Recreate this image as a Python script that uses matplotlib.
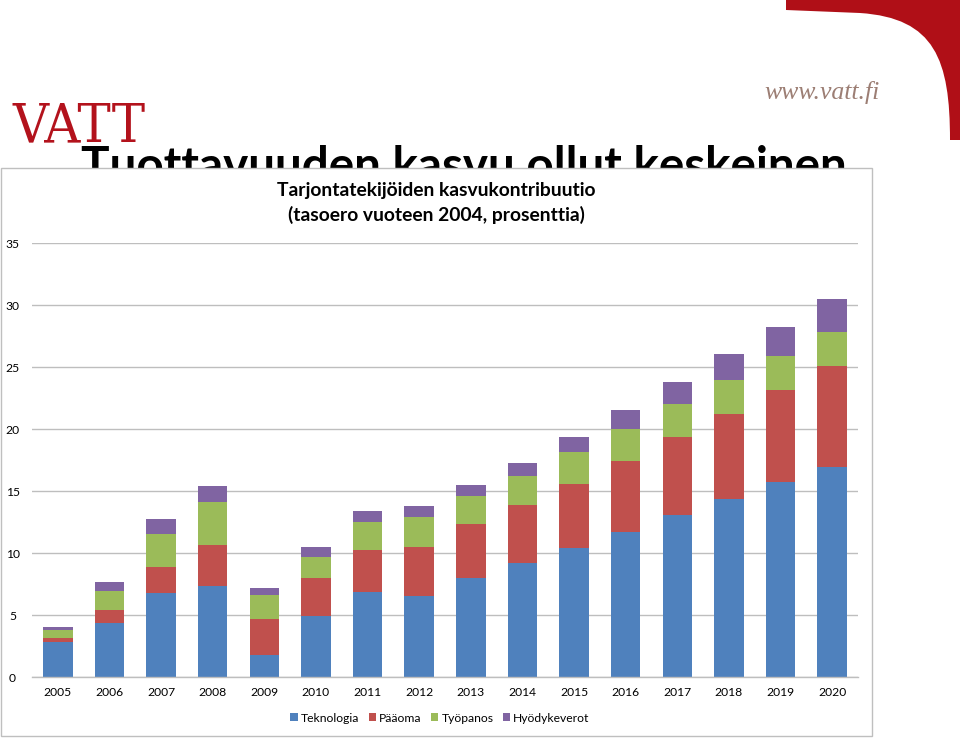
import matplotlib
matplotlib.use("Agg")
import matplotlib.pyplot as plt
import numpy as np
from matplotlib.patches import Rectangle, PathPatch
from matplotlib.path import Path

# ---------------- data ----------------
years = ["2005", "2006", "2007", "2008", "2009", "2010", "2011", "2012",
         "2013", "2014", "2015", "2016", "2017", "2018", "2019", "2020"]
teknologia = [2.88, 4.36, 6.83, 7.34, 1.78, 4.92, 6.89, 6.54,
              8.04, 9.23, 10.41, 11.73, 13.05, 14.39, 15.71, 16.98]
paaoma = [0.27, 1.07, 2.07, 3.29, 2.95, 3.07, 3.39, 3.93,
          4.36, 4.68, 5.19, 5.70, 6.29, 6.84, 7.48, 8.12]
tyopanos = [0.70, 1.57, 2.64, 3.47, 1.92, 1.72, 2.26, 2.47,
            2.21, 2.31, 2.59, 2.61, 2.72, 2.77, 2.72, 2.72]
hyodykeverot = [0.21, 0.69, 1.19, 1.32, 0.53, 0.81, 0.88, 0.86,
                0.89, 1.05, 1.15, 1.51, 1.78, 2.10, 2.37, 2.66]
series_names = ["Teknologia", "Pääoma", "Työpanos", "Hyödykeverot"]
y_ticks = [0, 5, 10, 15, 20, 25, 30, 35]
chart_title = "Tarjontatekijöiden kasvukontribuutio\n(tasoero vuoteen 2004, prosenttia)"
slide_title = "Tuottavuuden kasvu ollut keskeinen"

colors = ["#4F81BD", "#C0504D", "#9BBB59", "#8064A2"]
FONT = ["Lato", "DejaVu Sans"]
plt.rcParams["font.family"] = FONT

W, H = 960, 738
fig = plt.figure(figsize=(W / 100, H / 100), dpi=100)

# background axes in pixel coordinates
bg = fig.add_axes([0, 0, 1, 1], zorder=0)
bg.set_xlim(0, W)
bg.set_ylim(H, 0)
bg.axis("off")

# red corner shape (top right)
verts = [(786, 0), (960, 0), (960, 140), (950, 140),
         (950, 60), (935, 18), (860, 13),
         (786, 10), (786, 0)]
codes = [Path.MOVETO, Path.LINETO, Path.LINETO, Path.LINETO,
         Path.CURVE4, Path.CURVE4, Path.CURVE4,
         Path.LINETO, Path.CLOSEPOLY]
bg.add_patch(PathPatch(Path(verts, codes), facecolor="#B00F17",
                       edgecolor="none", zorder=1))

fig.canvas.draw()
r = fig.canvas.get_renderer()

# VATT logo (single text fitted to logo width)
logo = bg.text(12, 142, "VATT", fontsize=40,
               family=["DejaVu Serif", "Liberation Serif"], fontstretch="condensed",
               color="#B3121C", ha="left", va="baseline", zorder=1)
wl = logo.get_window_extent(r).width
logo.set_fontsize(40 * 133 / wl)

# www.vatt.fi
bg.text(822, 93, "www.vatt.fi", fontsize=18.5, style="italic",
        family=["Liberation Serif", "DejaVu Serif"], color="#9C7E74",
        ha="center", va="center", zorder=1)

# slide title (partly hidden by chart box)
fs_title = 40
t = bg.text(81, 0, slide_title, fontsize=fs_title, fontweight="bold",
            color="black", ha="left", va="baseline", zorder=1)
wpx = t.get_window_extent(r).width
fs_title = fs_title * 767 / wpx
t.set_fontsize(fs_title)
cap_px = 0.72 * fs_title * 100 / 72
t.set_y(147 + cap_px)
clip_rect = Rectangle((0, 0), W, 168, transform=bg.transData)
t.set_clip_path(clip_rect)

# chart box
bg.add_patch(Rectangle((1, 168), 871, 568, facecolor="white",
                       edgecolor="#BFBFBF", linewidth=1.0, zorder=2))

# chart title
bg.text(436, 203, chart_title, fontsize=13.9, fontweight="bold",
        ha="center", va="center", linespacing=1.48, color="black", zorder=3)

# ---------------- chart ----------------
ax = fig.add_axes([32 / W, 1 - 677.3 / H, (858 - 32) / W, (677.3 - 243.3) / H],
                  zorder=1)
ax.patch.set_alpha(0)
x = np.arange(len(years))
bottom = np.zeros(len(years))
handles = []
for vals, name, col in zip([teknologia, paaoma, tyopanos, hyodykeverot],
                           series_names, colors):
    b = ax.bar(x, vals, width=0.57, bottom=bottom, color=col, label=name,
               zorder=2, linewidth=0)
    handles.append(b)
    bottom = bottom + np.array(vals)

ax.set_xlim(-0.5, len(years) - 0.5)
ax.set_ylim(0, 35)
ax.set_yticks(y_ticks)
ax.set_xticks(x)
ax.set_xticklabels(years)
ax.tick_params(axis="both", length=0, labelsize=8.7, colors="black")
ax.tick_params(axis="y", pad=14)
ax.tick_params(axis="x", pad=7)
for lab in ax.get_yticklabels():
    lab.set_horizontalalignment("center")
ax.grid(axis="y", color="#BEBEBE", linewidth=1.0, zorder=0)
ax.set_axisbelow(True)
for side in ["top", "right", "left"]:
    ax.spines[side].set_visible(False)
ax.spines["bottom"].set_color("#BEBEBE")
ax.spines["bottom"].set_linewidth(1.0)

ax.legend(handles=handles, labels=series_names, ncol=4, loc="center",
          bbox_to_anchor=(440 / W, 1 - 718 / H), bbox_transform=fig.transFigure,
          frameon=False, fontsize=8.7, handlelength=0.6, handleheight=0.6,
          handletextpad=0.25, columnspacing=0.8, borderpad=0)

fig.savefig("out.png", dpi=100)
